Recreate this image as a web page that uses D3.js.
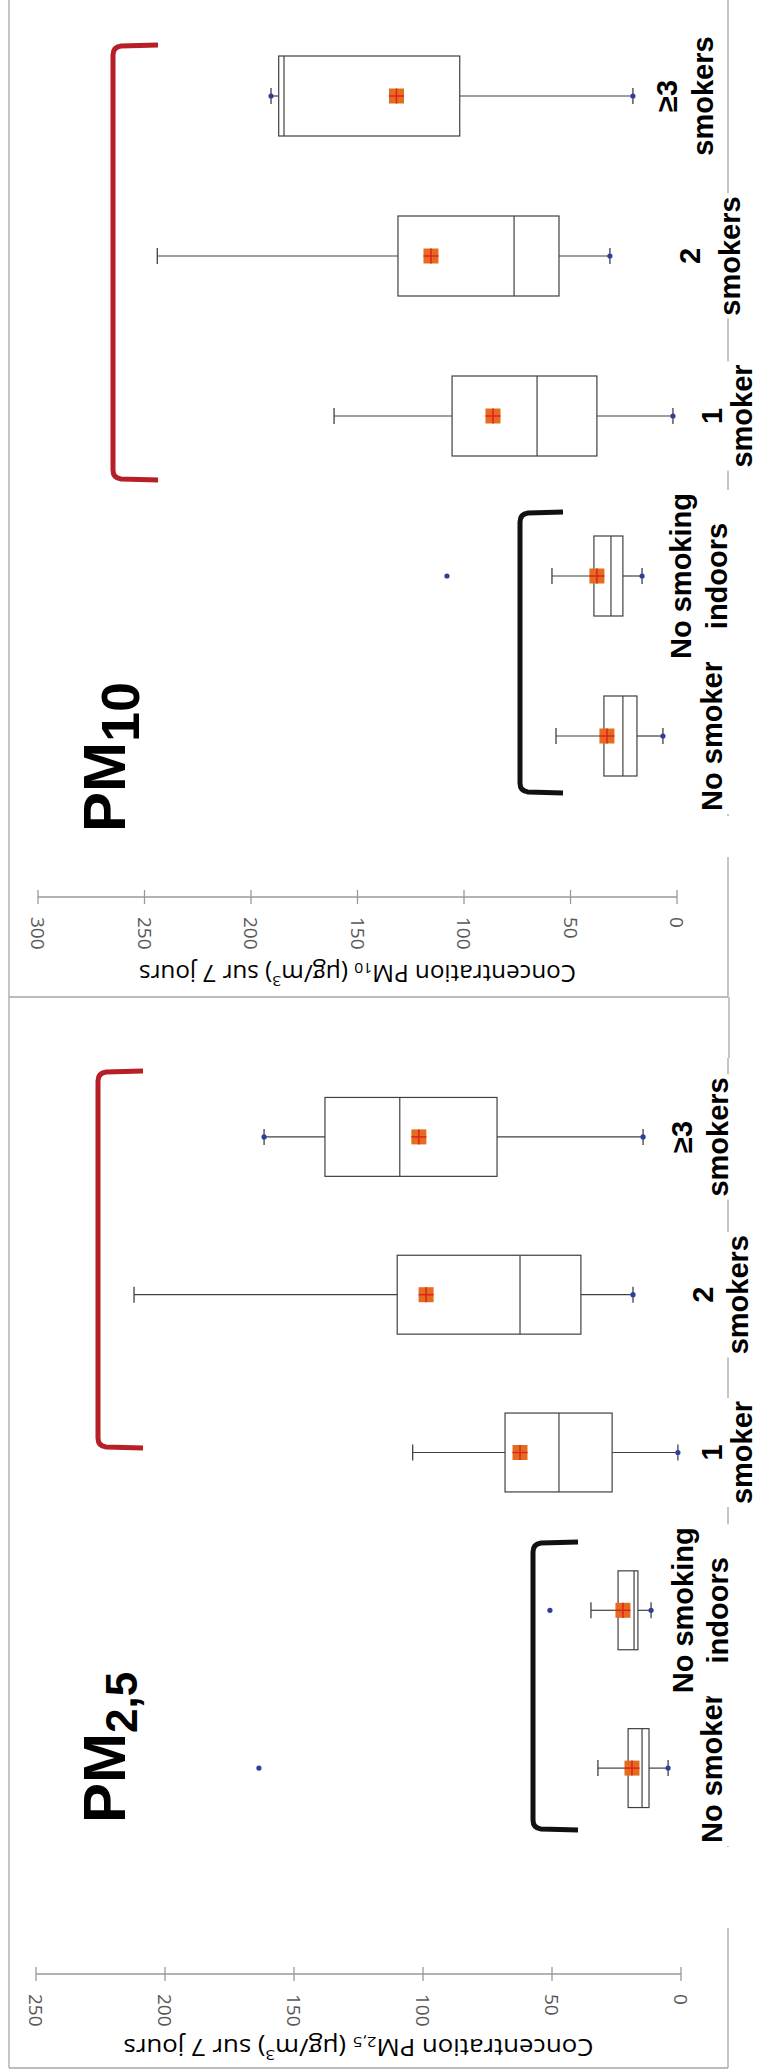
<!DOCTYPE html>
<html><head><meta charset="utf-8">
<script src="https://cdn.jsdelivr.net/npm/d3@7"></script>
<style>
html,body{margin:0;padding:0;background:#fff;}
svg{display:block;}
</style></head>
<body>
<script>
// ---------- DATA ----------
const categories = ["No smoker", "No smoking indoors", "1 smoker", "2 smokers", "≥3 smokers"];
const labelLines = [["No smoker"], ["No smoking", "indoors"], ["1", "smoker"], ["2", "smokers"], ["≥3", "smokers"]];

// PM10 (µg/m³)
const pm10Min     = [6.6, 16.4, 1.9, 31.5, 20.7];
const pm10Q1      = [18.8, 25.4, 37.6, 55.4, 102];
const pm10Median  = [25.4, 31, 65.7, 76.5, 184.5];
const pm10Q3      = [34.3, 39, 105.6, 131, 187];
const pm10Max     = [56.8, 58.7, 161, 244, 190.6];
const pm10Mean    = [32.9, 37.6, 86.4, 115.5, 131.7];
const pm10Outliers = [[], [108], [], [], []];
const pm10Ticks   = [0, 50, 100, 150, 200, 250, 300];

// PM2,5 (µg/m³)
const pm25Min     = [5, 11.6, 1.2, 18.6, 14.7];
const pm25Q1      = [12.4, 16.7, 26.7, 38.8, 71.3];
const pm25Median  = [15.1, 18.2, 47.3, 62.4, 109];
const pm25Q3      = [20.5, 24.4, 68.2, 110, 138];
const pm25Max     = [32.2, 34.9, 104, 212, 161.6];
const pm25Mean    = [19, 22.5, 62.4, 98.8, 101.6];
const pm25Outliers = [[163.6], [50.8], [], [], []];
const pm25Ticks   = [0, 50, 100, 150, 200, 250];

const maxMarked = [false, false, false, false, true];

// ---------- LAYOUT ----------
const W = 760, H = 2071;
const svg = d3.select("body").append("svg").attr("width", W).attr("height", H);
const frameColor = "#a6a6a6";
const frameLeft = 9, frameRight = 728;

const panels = [
  {
    title: "PM", sub: "10", subSize: 54, subDy: 14, titleX: 125, titleY: 832,
    axisTitleSub: "10",
    min: pm10Min, q1: pm10Q1, med: pm10Median, q3: pm10Q3, max: pm10Max, mean: pm10Mean, out: pm10Outliers, ticks: pm10Ticks,
    xRange: [677, 38], yRange: [816, 16],
    axisY: 897, titleOff: 77, axisTitleLen: 437, top: 0, bottom: 997,
    red: {x: 113, arm: 158, y0: 45, y1: 480},
    black: {x: 520, arm: 563, y0: 512, y1: 793},
    labelX: [[722], [691, 727], [722, 752], [700, 740], [677, 713]]
  },
  {
    title: "PM", sub: "2,5", subSize: 44, subDy: 12, titleX: 125, titleY: 1823,
    axisTitleSub: "2,5",
    min: pm25Min, q1: pm25Q1, med: pm25Median, q3: pm25Q3, max: pm25Max, mean: pm25Mean, out: pm25Outliers, ticks: pm25Ticks,
    xRange: [681, 36], yRange: [1847, 1058],
    axisY: 1974, titleOff: 74, axisTitleLen: 470, top: 997, bottom: 2068,
    red: {x: 98, arm: 143, y0: 1071, y1: 1448},
    black: {x: 533, arm: 578, y0: 1542, y1: 1830},
    labelX: [[722], [693, 728], [722, 752], [713, 748], [692, 728]]
  }
];

// frame
svg.append("line").attr("x1", frameLeft).attr("x2", frameLeft).attr("y1", 0).attr("y2", 2068)
  .attr("stroke", frameColor).attr("stroke-width", 1.3);

panels.forEach(p => {
  const x = d3.scaleLinear().domain([0, d3.max(p.ticks)]).range(p.xRange);
  const y = d3.scaleBand().domain(categories).range(p.yRange).paddingInner(0).paddingOuter(0);
  const bw = y.bandwidth();
  const boxH = bw * 0.5;
  const g = svg.append("g");

  g.append("line").attr("x1", frameLeft).attr("x2", frameRight).attr("y1", p.bottom).attr("y2", p.bottom)
    .attr("stroke", frameColor).attr("stroke-width", 1.3);
  g.append("line").attr("x1", frameRight).attr("x2", frameRight).attr("y1", p.bottom - 140).attr("y2", p.bottom)
    .attr("stroke", frameColor).attr("stroke-width", 1.3);

  g.append("line").attr("x1", frameRight).attr("x2", frameRight)
    .attr("y1", Math.min(...p.yRange)).attr("y2", Math.max(...p.yRange))
    .attr("stroke", frameColor).attr("stroke-width", 1.3);
  g.append("line").attr("x1", frameRight + (p.top > 0 ? 1 : 0)).attr("x2", frameRight + (p.top > 0 ? 1 : 0))
    .attr("y1", p.top).attr("y2", Math.min(...p.yRange))
    .attr("stroke", frameColor).attr("stroke-width", 1.3);

  // value axis (horizontal)
  const ax = g.append("g");
  ax.append("line").attr("x1", x(d3.max(p.ticks))).attr("x2", x(0)).attr("y1", p.axisY).attr("y2", p.axisY)
    .attr("stroke", "#9a9a9a").attr("stroke-width", 1.3);
  ax.selectAll(".tk").data(p.ticks).join("line")
    .attr("x1", d => x(d)).attr("x2", d => x(d)).attr("y1", p.axisY - 7).attr("y2", p.axisY + 7)
    .attr("stroke", "#9a9a9a").attr("stroke-width", 1.3);
  ax.selectAll(".tl").data(p.ticks).join("text")
    .attr("transform", d => `translate(${x(d)},${p.axisY + 20}) rotate(90)`)
    .attr("text-anchor", "start").attr("dominant-baseline", "central")
    .attr("font-family", "'Open Sans', 'Liberation Sans', sans-serif").attr("font-size", 19)
    .attr("fill", "#595959").text(d => d);
  const at = ax.append("text")
    .attr("transform", `translate(${(x(0) + x(d3.max(p.ticks))) / 2},${p.axisY + p.titleOff}) rotate(180)`)
    .attr("text-anchor", "middle").attr("dominant-baseline", "central")
    .attr("font-family", "'Open Sans', 'Liberation Sans', sans-serif").attr("font-size", 23)
    .attr("fill", "#000")
    .attr("textLength", p.axisTitleLen).attr("lengthAdjust", "spacingAndGlyphs");
  at.append("tspan").text("Concentration PM");
  at.append("tspan").attr("font-size", 15).attr("dy", 5).text(p.axisTitleSub);
  at.append("tspan").attr("dy", -5).text(" (µg/m");
  at.append("tspan").attr("font-size", 15).attr("dy", -8).text("3");
  at.append("tspan").attr("dy", 8).text(") sur 7 jours");

  // brackets
  const bracket = (b, color) => {
    const r = 8;
    const path = `M${b.arm},${b.y0} L${b.x + r},${b.y0 + 1} Q${b.x},${b.y0 + 2} ${b.x},${b.y0 + r + 2} L${b.x},${b.y1 - r - 2} Q${b.x},${b.y1 - 2} ${b.x + r},${b.y1 - 1} L${b.arm},${b.y1}`;
    g.append("path").attr("d", path).attr("fill", "none").attr("stroke", color).attr("stroke-width", 5)
      .attr("stroke-linejoin", "round");
  };
  bracket(p.red, "#b71f26");
  bracket(p.black, "#111");

  // big title
  const tt = g.append("text").attr("transform", `translate(${p.titleX},${p.titleY}) rotate(-90)`)
    .attr("font-family", "'Liberation Sans', Arial, sans-serif").attr("font-weight", "bold")
    .attr("font-size", 60).attr("fill", "#000");
  tt.append("tspan").text(p.title);
  tt.append("tspan").attr("font-size", p.subSize).attr("dy", p.subDy).text(p.sub);

  // boxes
  const idx = d3.range(categories.length);
  const box = g.selectAll(".box").data(idx).join("g");
  box.each(function (i) {
    const s = d3.select(this);
    const cy = y(categories[i]) + bw / 2;
    const capH = 16;
    s.append("line").attr("x1", x(p.max[i])).attr("x2", x(p.q3[i])).attr("y1", cy).attr("y2", cy)
      .attr("stroke", "#404040").attr("stroke-width", 1.2);
    s.append("line").attr("x1", x(p.q1[i])).attr("x2", x(p.min[i])).attr("y1", cy).attr("y2", cy)
      .attr("stroke", "#404040").attr("stroke-width", 1.2);
    [p.max[i], p.min[i]].forEach(v => {
      s.append("line").attr("x1", x(v)).attr("x2", x(v)).attr("y1", cy - capH / 2).attr("y2", cy + capH / 2)
        .attr("stroke", "#404040").attr("stroke-width", 1.3);
    });
    s.append("rect").attr("x", x(p.q3[i])).attr("width", x(p.q1[i]) - x(p.q3[i]))
      .attr("y", cy - boxH / 2).attr("height", boxH)
      .attr("fill", "#fff").attr("stroke", "#404040").attr("stroke-width", 1.2);
    s.append("line").attr("x1", x(p.med[i])).attr("x2", x(p.med[i]))
      .attr("y1", cy - boxH / 2).attr("y2", cy + boxH / 2)
      .attr("stroke", "#404040").attr("stroke-width", 1.2);
    s.append("circle").attr("cx", x(p.min[i])).attr("cy", cy).attr("r", 2.6).attr("fill", "#2e3d9f");
    if (maxMarked[i]) s.append("circle").attr("cx", x(p.max[i])).attr("cy", cy).attr("r", 2.6).attr("fill", "#2e3d9f");
    p.out[i].forEach(v => {
      s.append("circle").attr("cx", x(v)).attr("cy", cy).attr("r", 2.6).attr("fill", "#2e3d9f");
    });
    const m = 15;
    s.append("rect").attr("x", x(p.mean[i]) - m / 2).attr("y", cy - m / 2).attr("width", m).attr("height", m)
      .attr("fill", "#e46c21");
    s.append("line").attr("x1", x(p.mean[i]) - m / 2).attr("x2", x(p.mean[i]) + m / 2).attr("y1", cy).attr("y2", cy)
      .attr("stroke", "#e3201b").attr("stroke-width", 1.5);
    s.append("line").attr("x1", x(p.mean[i])).attr("x2", x(p.mean[i])).attr("y1", cy - m / 2).attr("y2", cy + m / 2)
      .attr("stroke", "#e3201b").attr("stroke-width", 1.5);
  });

  // category labels
  categories.forEach((c, i) => {
    const cy = y(c) + bw / 2;
    const lg = g.append("g").attr("transform", `translate(0,${cy})`);
    labelLines[i].forEach((t, k) => {
      lg.append("text").attr("transform", `translate(${p.labelX[i][k]},0) rotate(-90)`)
        .attr("text-anchor", "middle")
        .attr("font-family", "'Liberation Sans', Arial, sans-serif").attr("font-weight", "bold")
        .attr("font-size", 29).attr("fill", "#000").text(t);
    });
    const bb = lg.node().getBBox();
    lg.insert("rect", ":first-child").attr("x", bb.x - 2).attr("y", bb.y - 3)
      .attr("width", Math.min(bb.width + 4, W - bb.x)).attr("height", bb.height + 6).attr("fill", "#fff");
  });
});
</script>
</body></html>
